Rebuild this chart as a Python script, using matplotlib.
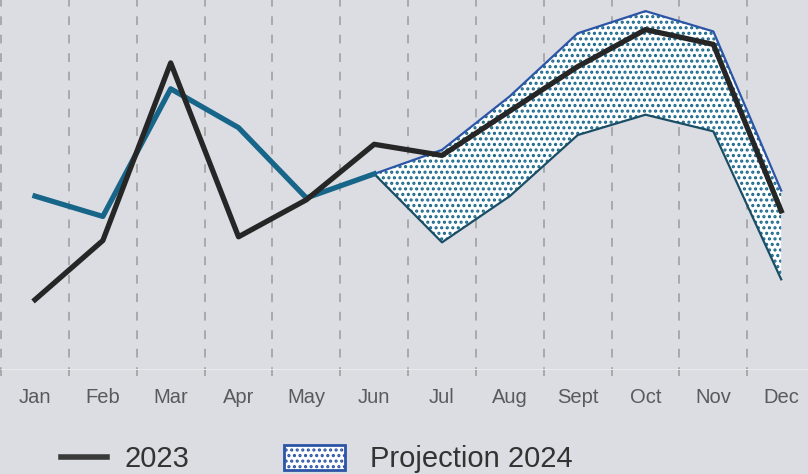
import numpy as np
import matplotlib
matplotlib.use("Agg")
import matplotlib.pyplot as plt
from matplotlib.lines import Line2D
from matplotlib.patches import Patch

plt.rcParams['font.family'] = ['Liberation Sans', 'DejaVu Sans']
plt.rcParams['hatch.linewidth'] = 1.5

months = ['Jan', 'Feb', 'Mar', 'Apr', 'May', 'Jun', 'Jul', 'Aug', 'Sept', 'Oct', 'Nov', 'Dec']
sales_2023 = [19, 35, 83, 36, 46, 61, 58, 70, 82, 92, 88, 43]
# 2024 actuals up to June
sales_2024 = [47, 41.5, 76, 65.5, 46.5, 53]
# projection band from June to December
proj_upper = [53, 59.5, 74, 91, 97, 91.5, 48.5]
proj_lower = [53, 34.5, 47, 63.5, 69, 64.5, 24.5]

bg = '#dcdde2'
c_2023 = '#262626'
c_2024 = '#17668a'
c_upper = '#2b55a6'
c_lower = '#1a4e66'

fig = plt.figure(figsize=(8.08, 4.74), dpi=100, facecolor=bg)
ax = fig.add_axes([1.1 / 808, 104 / 474, 814 / 808, 370 / 474])
ax.set_facecolor(bg)

x = np.arange(len(months))
xp = x[5:]

# dashed vertical separators between months
for b in np.arange(-0.5, 11.0, 1.0):
    ax.axvline(b, ymin=-0.015, ymax=1, color='#a9a9ab', lw=1.4,
               dashes=(4.5, 5), clip_on=False, zorder=1)
ax.axhline(0, color='#e9e9ec', lw=1.5, zorder=1)

ax.fill_between(xp, proj_lower, proj_upper, facecolor='white',
                edgecolor=c_2024, hatch='...', lw=0, zorder=2)
ax.plot(xp, proj_lower, color=c_lower, lw=1.6, zorder=3)
ax.plot(xp, proj_upper, color=c_upper, lw=1.6, zorder=3)

ax.plot(x, sales_2023, color=c_2023, lw=3.8, zorder=5)
ax.plot(x[:6], sales_2024, color=c_2024, lw=3.8, zorder=4)

ax.set_xlim(-0.5, 11.5)
ax.set_ylim(0, 100)
ax.set_xticks(x)
ax.set_xticklabels(months, fontsize=14.5, color='#5a5a5e')
ax.tick_params(axis='x', length=0, pad=13)
ax.set_yticks([])
for s in ax.spines.values():
    s.set_visible(False)

# legend, two separate pieces so the handles can differ in size
h1 = Line2D([], [], color='#3a3a3a', lw=4)
fig.legend([h1], ['2023'], loc='center left', bbox_to_anchor=(49 / 808, 1 - 459 / 474),
           frameon=False, fontsize=21, handlelength=1.6, handletextpad=0.6,
           labelcolor='#333333', borderaxespad=0)
h2 = Patch(facecolor='white', edgecolor=c_upper, hatch='...', lw=2)
fig.legend([h2], ['Projection 2024'], loc='center left',
           bbox_to_anchor=(272 / 808, 1 - 459 / 474),
           frameon=False, fontsize=21, handlelength=2.1, handleheight=0.95,
           handletextpad=0.85, labelcolor='#333333', borderaxespad=0)

fig.savefig('out.png', dpi=100, facecolor=bg)
